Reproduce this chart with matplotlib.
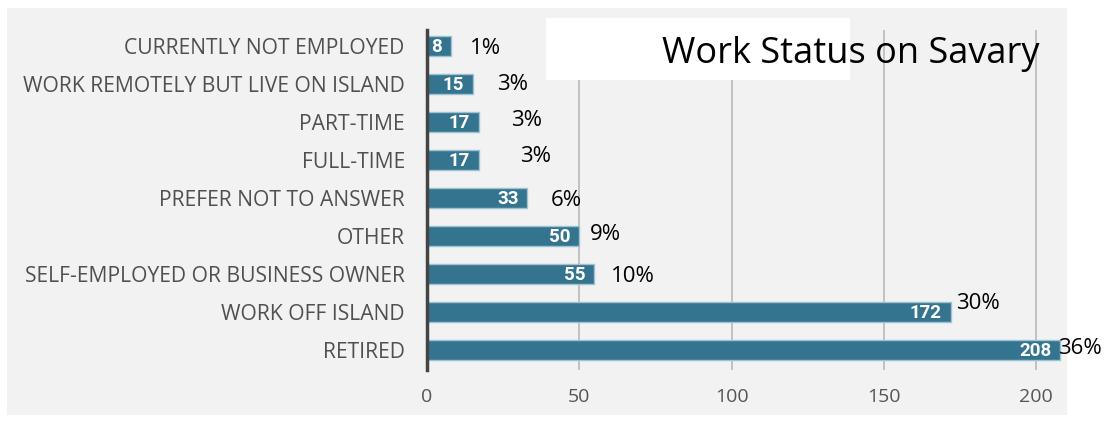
import matplotlib.pyplot as plt
from matplotlib.patches import Rectangle

# data, bottom to top
categories = ["RETIRED", "WORK OFF ISLAND", "SELF-EMPLOYED OR BUSINESS OWNER", "OTHER",
              "PREFER NOT TO ANSWER", "FULL-TIME", "PART-TIME",
              "WORK REMOTELY BUT LIVE ON ISLAND", "CURRENTLY NOT EMPLOYED"]
counts = [208, 172, 55, 50, 33, 17, 17, 15, 8]
percents = ["36%", "30%", "10%", "9%", "6%", "3%", "3%", "3%", "1%"]
xticks = [0, 50, 100, 150, 200]

# hand placed label offsets (pixels), as in the original
pct_dx = [-2, 5, 16, 11, 23, 41, 32, 24, 19]
pct_dy = [1, 8, -3, 1, -3, 3, 1, -1, -3]

BAR = "#35748f"

fig = plt.figure(figsize=(11.1, 4.23), dpi=100)
W, H = 1110, 423
fig.patches.append(Rectangle((7 / W, 8 / H), 1060 / W, 407 / H, transform=fig.transFigure,
                             facecolor="#f2f2f2", edgecolor="none", zorder=-2))

ax = fig.add_axes([427 / W, 53 / H, 639.5 / W, 340 / H])
ax.set_zorder(0.5)
ax.set_facecolor("none")
y = list(range(len(categories)))
ax.barh(y, counts, height=0.53, color=BAR, edgecolor="#9cc3d3", linewidth=1, zorder=3)
ax.set_xlim(0, 210)
ax.set_ylim(-0.53, 8.42)

ax.set_yticks(y)
ax.set_yticklabels(categories, fontfamily="Open Sans", fontsize=15.2, color="#505050")
ax.set_xticks(xticks)
ax.set_xticklabels([str(t) for t in xticks], fontfamily="Open Sans", fontsize=14, color="#555555")
ax.tick_params(axis="y", length=0, pad=16)
ax.tick_params(axis="x", length=0, pad=13)

for s in ["top", "right", "bottom"]:
    ax.spines[s].set_visible(False)
ax.spines["left"].set_color("#444444")
ax.spines["left"].set_linewidth(2.5)
ax.spines["left"].set_zorder(5)

ax.grid(axis="x", color="#bdbdbd", linewidth=1.3, zorder=1)
ax.set_axisbelow(True)

for i, (c, p) in enumerate(zip(counts, percents)):
    ax.annotate(str(c), (c, i), xytext=(-9, -1), textcoords="offset pixels",
                ha="right", va="center", color="white", fontweight="bold",
                fontfamily=["Liberation Sans Narrow", "Roboto"], fontsize=13.5, zorder=6)
    ax.annotate(p, (c, i), xytext=(pct_dx[i], pct_dy[i]), textcoords="offset pixels",
                ha="left", va="center", color="black", fontfamily="Open Sans",
                fontsize=16, annotation_clip=False, zorder=6)

# title box, drawn over the grid
fig.patches.append(Rectangle((546 / W, (H - 80) / H), 304 / W, 62 / H, transform=fig.transFigure,
                             facecolor="white", edgecolor="none", zorder=1))
fig.text(1040 / W, (H - 54) / H, "Work Status on Savary", ha="right", va="center",
         fontfamily="Open Sans", fontsize=26, color="black", zorder=10)

fig.savefig("out.png", dpi=100)
